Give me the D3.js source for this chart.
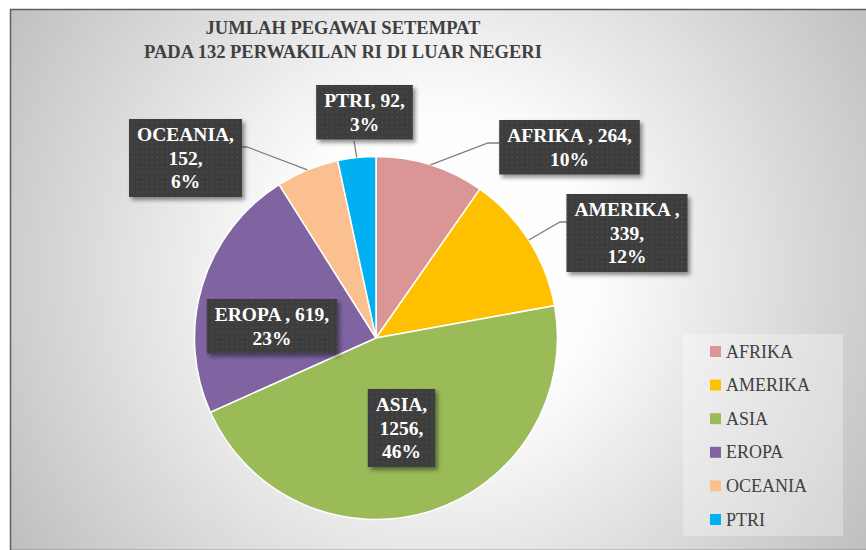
<!DOCTYPE html>
<html>
<head>
<meta charset="utf-8">
<script src="https://cdn.jsdelivr.net/npm/d3@7"></script>
<style>
  body { margin: 0; background: #ffffff; }
</style>
</head>
<body>
<div id="pieChart"></div>
<script>
// chart data
var categories = ["AFRIKA", "AMERIKA", "ASIA", "EROPA", "OCEANIA", "PTRI"];
var values = [264, 339, 1256, 619, 152, 92];
// names as they appear in the data labels (some have a trailing space)
var labelNames = ["AFRIKA ", "AMERIKA ", "ASIA", "EROPA ", "OCEANIA", "PTRI"];
var colors = ["#D99694", "#FFC000", "#9BBB59", "#8064A2", "#FAC090", "#00B0F0"];
var titleLines = ["JUMLAH PEGAWAI SETEMPAT", "PADA 132 PERWAKILAN RI DI LUAR NEGERI"];

// where each data label box sits, how its text is broken, and its leader line
var labelLayout = [
  {cx: 569.5, top: 120, lines: [[0, 1], [2]], leader: [[488, 143], [499, 143]]},
  {cx: 627, top: 194, lines: [[0], [1], [2]], leader: [[560, 222], [570, 222]]},
  {cx: 401.5, top: 389, lines: [[0], [1], [2]], leader: null},
  {cx: 272, top: 299, lines: [[0, 1], [2]], leader: null},
  {cx: 185.5, top: 119, lines: [[0], [1], [2]], leader: [[247, 147], [238, 147]]},
  {cx: 364.5, top: 85, lines: [[0, 1], [2]], leader: [[354, 141]]}
];

var width = 866,
    height = 550,
    pieX = 376,
    pieY = 338,
    radius = 181.5;

var svg = d3.select("#pieChart")
  .append("svg")
    .attr("width", width)
    .attr("height", height)
    .style("display", "block");

var defs = svg.append("defs");

// background gradient (white centre fading to grey)
var bg = defs.append("radialGradient")
  .attr("id", "bgGrad")
  .attr("gradientUnits", "userSpaceOnUse")
  .attr("cx", 440).attr("cy", 270).attr("r", 520);
bg.append("stop").attr("offset", 0).attr("stop-color", "#ffffff");
bg.append("stop").attr("offset", 0.3).attr("stop-color", "#fdfdfd");
bg.append("stop").attr("offset", 1).attr("stop-color", "#bdbdbd");

// dotted texture for the label boxes
var pat = defs.append("pattern")
  .attr("id", "dots")
  .attr("patternUnits", "userSpaceOnUse")
  .attr("width", 5).attr("height", 5);
pat.append("rect").attr("width", 5).attr("height", 5).attr("fill", "#3d3d3d");
pat.append("rect").attr("x", 1.5).attr("y", 1.5).attr("width", 1.4).attr("height", 1.4).attr("fill", "#4f4f4f");

var shadow = defs.append("filter")
  .attr("id", "shadow")
  .attr("x", "-20%").attr("y", "-20%").attr("width", "150%").attr("height", "150%");
shadow.append("feDropShadow")
  .attr("dx", 2.5).attr("dy", 3)
  .attr("stdDeviation", 2)
  .attr("flood-color", "#000")
  .attr("flood-opacity", 0.45);

// chart area
svg.append("rect")
  .attr("x", 10.5).attr("y", 9.5)
  .attr("width", 870).attr("height", 541)
  .attr("fill", "url(#bgGrad)")
  .attr("stroke", "#5f5f5f")
  .attr("stroke-width", 1.5);

// title
svg.append("text")
  .attr("x", 343)
  .attr("y", 34)
  .attr("text-anchor", "middle")
  .style("font-family", "'Liberation Serif', serif")
  .style("font-weight", "bold")
  .style("font-size", "18.5px")
  .attr("fill", "#404040")
  .selectAll("tspan")
  .data(titleLines)
  .enter()
  .append("tspan")
    .attr("x", 343)
    .attr("dy", function(d, i) { return i == 0 ? 0 : 24; })
    .text(function(d) { return d; });

var total = d3.sum(values);
var data = categories.map(function(c, i) { return {name: c, value: values[i], i: i}; });

var pie = d3.pie()
  .sort(null)
  .value(function(d) { return d.value; });

var arc = d3.arc()
  .innerRadius(0)
  .outerRadius(radius);

var arcs = pie(data);

var g = svg.append("g")
  .attr("transform", "translate(" + pieX + "," + pieY + ")");

// slices
g.selectAll("path")
  .data(arcs)
  .enter()
  .append("path")
    .attr("d", arc)
    .attr("fill", function(d) { return colors[d.data.i]; })
    .attr("stroke", "#ffffff")
    .attr("stroke-width", 1.5);

// leader lines
arcs.forEach(function(a, i) {
  var lay = labelLayout[i];
  if (!lay.leader) return;
  var mid = (a.startAngle + a.endAngle) / 2;
  var pts = [[pieX + radius * Math.sin(mid), pieY - radius * Math.cos(mid)]].concat(lay.leader);
  svg.append("path")
    .attr("d", d3.line()(pts))
    .attr("fill", "none")
    .attr("stroke", "#7f7f7f")
    .attr("stroke-width", 1.3);
});

// data labels
arcs.forEach(function(a, i) {
  var lay = labelLayout[i];
  var d = a.data;
  var tokens = [labelNames[i] + ",", d.value + ",", Math.round(d.value / total * 100) + "%"];
  var lines = lay.lines.map(function(l) {
    return l.map(function(k) { return tokens[k]; }).join(" ");
  });
  var lineH = 23.5;
  var boxH = 22 + (lines.length - 1) * lineH + 9;

  var lg = svg.append("g");
  var box = lg.append("rect")
    .attr("fill", "url(#dots)")
    .attr("filter", "url(#shadow)");

  var txt = lg.append("text")
    .attr("text-anchor", "middle")
    .style("font-family", "'Liberation Serif', serif")
    .style("font-weight", "bold")
    .style("font-size", "19.5px")
    .attr("fill", "#ffffff");
  txt.selectAll("tspan")
    .data(lines)
    .enter()
    .append("tspan")
      .attr("x", lay.cx)
      .attr("y", function(t, k) { return lay.top + 22 + k * lineH; })
      .text(function(t) { return t; });

  var w = 0;
  txt.selectAll("tspan").each(function() { w = Math.max(w, this.getComputedTextLength()); });
  w = w + 16;
  box.attr("x", lay.cx - w / 2)
    .attr("y", lay.top)
    .attr("width", w)
    .attr("height", boxH);
});

// legend
var legend = svg.append("g");
legend.append("rect")
  .attr("x", 683).attr("y", 334)
  .attr("width", 160).attr("height", 202)
  .attr("fill", "#ffffff")
  .attr("fill-opacity", 0.3);

var item = legend.selectAll("g.item")
  .data(categories)
  .enter()
  .append("g")
    .attr("class", "item")
    .attr("transform", function(d, i) { return "translate(710," + (351.5 + i * 33.6) + ")"; });

item.append("rect")
  .attr("x", 0).attr("y", -5.5)
  .attr("width", 11).attr("height", 11)
  .attr("fill", function(d, i) { return colors[i]; });

item.append("text")
  .attr("x", 16)
  .attr("y", 6)
  .style("font-family", "'Liberation Serif', serif")
  .style("font-size", "18px")
  .attr("fill", "#404040")
  .text(function(d) { return d; });
</script>
</body>
</html>
